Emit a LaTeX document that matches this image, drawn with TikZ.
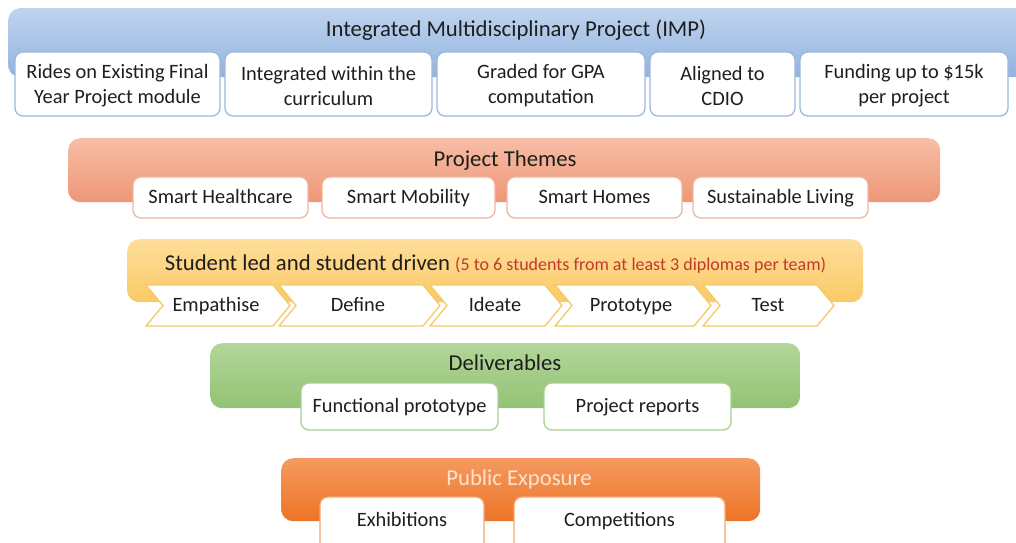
\documentclass[tikz,border=0pt]{standalone}
\usepackage{fontspec}
\setmainfont{Carlito}
\definecolor{txt}{HTML}{1E1E1E}
\definecolor{blueT}{HTML}{BFD4EE}
\definecolor{blueB}{HTML}{92B3DF}
\definecolor{blueE}{HTML}{9DB8DD}
\definecolor{salT}{HTML}{F7BEA6}
\definecolor{salB}{HTML}{EE9677}
\definecolor{salE}{HTML}{F0B49C}
\definecolor{yelT}{HTML}{FEDE9A}
\definecolor{yelB}{HTML}{FBC966}
\definecolor{yelE}{HTML}{F7C965}
\definecolor{grnT}{HTML}{B2D69A}
\definecolor{grnB}{HTML}{93C274}
\definecolor{grnE}{HTML}{A9D08E}
\definecolor{orgT}{HTML}{F59A60}
\definecolor{orgB}{HTML}{EC7426}
\definecolor{orgE}{HTML}{F3A777}
\definecolor{redT}{HTML}{C0392B}
\definecolor{pubT}{HTML}{FDE3D0}
\tikzset{
  band/.style={rounded corners=12pt, inner sep=0pt, draw=none, anchor=north west, shading=axis, shading angle=0},
  wbox/.style={draw, fill=white, rounded corners=8pt, line width=1.3pt, inner sep=0pt},
  lbl/.style={text=txt, font=\fontsize{20.4}{25}\selectfont, inner sep=0pt, align=center},
  one/.style={lbl, text height=14.5pt, text depth=3.5pt},
  ttl/.style={text=txt, font=\fontsize{22.7}{27}\selectfont, inner sep=0pt, text height=16pt, text depth=4pt},
  chev/.style={draw=yelE, fill=white, line width=1.3pt, line join=miter}
}
\begin{document}
\begin{tikzpicture}[x=1pt,y=-1pt]
\useasboundingbox (0,0) rectangle (1016,542);
\clip (0,0) rectangle (1016,542);
% ---------- IMP band ----------
\node[band, top color=blueT, bottom color=blueB, minimum width=1040pt, minimum height=69pt] (imp) at (8,8) {};
\node[ttl] (impt) at (516,30) {Integrated Multidisciplinary Project (IMP)};
\tikzset{wb/.style={wbox, draw=blueE, minimum height=64pt}}
\node[wb, minimum width=205pt] (b1) at (117.5,84) {};
\node[wb, minimum width=207pt] (b2) at (328.5,84) {};
\node[wb, minimum width=208pt] (b3) at (541,84) {};
\node[wb, minimum width=145pt] (b4) at (722.5,84) {};
\node[wb, minimum width=208pt] (b5) at (904,84) {};
\node[lbl] (b1t) at (117.5,86) {Rides on Existing Final\\Year Project module};
\node[lbl] (b2t) at (328.5,86) {Integrated within the\\curriculum};
\node[lbl] (b3t) at (541,86) {Graded for GPA\\computation};
\node[lbl] (b4t) at (722.5,86) {Aligned to\\CDIO};
\node[lbl] (b5t) at (904,86) {Funding up to \$15k\\per project};
% ---------- Themes band ----------
\node[band, top color=salT, bottom color=salB, minimum width=872pt, minimum height=64pt] (thm) at (68,138) {};
\node[ttl] (thmt) at (505,160) {Project Themes};
\tikzset{tb/.style={wbox, draw=salE, minimum height=41pt}}
\node[tb, minimum width=175pt] (t1) at (220.5,197.5) {};
\node[tb, minimum width=173pt] (t2) at (408.5,197.5) {};
\node[tb, minimum width=175pt] (t3) at (594.5,197.5) {};
\node[tb, minimum width=175pt] (t4) at (780.5,197.5) {};
\node[one] (t1t) at (t1) {Smart Healthcare};
\node[one] (t2t) at (t2) {Smart Mobility};
\node[one] (t3t) at (t3) {Smart Homes};
\node[one] (t4t) at (t4) {Sustainable Living};
% ---------- Student band ----------
\node[band, top color=yelT, bottom color=yelB, minimum width=736pt, minimum height=63pt] (stu) at (127,239) {};
\node[ttl] (stut) at (495.5,264) {Student led and student driven {\color{redT}\fontsize{18}{22}\selectfont (5 to 6 students from at least 3 diplomas per team)}};
% chevrons: left L, tip R, label centre C; top 285, bottom 326, depth 17
\foreach \L/\R/\C/\nm/\tx in {146/290/216/c1/Empathise, 279/440/358/c2/Define, 430/562/495/c3/Ideate, 555/711/631/c4/Prototype, 703/834/768/c5/Test}{
  \draw[chev] (\L,285) -- (\R-17,285) -- (\R,305.5) -- (\R-17,326) -- (\L,326) -- (\L+17,305.5) -- cycle;
  \node[one] (\nm) at (\C,305.5) {\tx};
}
% ---------- Deliverables band ----------
\node[band, top color=grnT, bottom color=grnB, minimum width=590pt, minimum height=65pt] (del) at (210,343) {};
\node[ttl] (delt) at (505,364) {Deliverables};
\tikzset{db/.style={wbox, draw=grnE, minimum height=47pt}}
\node[db, minimum width=197pt] (d1) at (399.5,406.5) {};
\node[db, minimum width=187pt] (d2) at (637.5,406.5) {};
\node[one] (d1t) at (d1) {Functional prototype};
\node[one] (d2t) at (d2) {Project reports};
% ---------- Public exposure band ----------
\node[band, top color=orgT, bottom color=orgB, minimum width=479pt, minimum height=63pt] (pub) at (281,458) {};
\node[ttl, text=pubT] (pubt) at (519,479) {Public Exposure};
\tikzset{ob/.style={wbox, draw=orgE, minimum height=63pt}}
\node[ob, minimum width=164pt] (e1) at (402,528.5) {};
\node[ob, minimum width=211pt] (e2) at (619.5,528.5) {};
\node[one] (e1t) at (402,521) {Exhibitions};
\node[one] (e2t) at (619.5,521) {Competitions};
\end{tikzpicture}
\end{document}
